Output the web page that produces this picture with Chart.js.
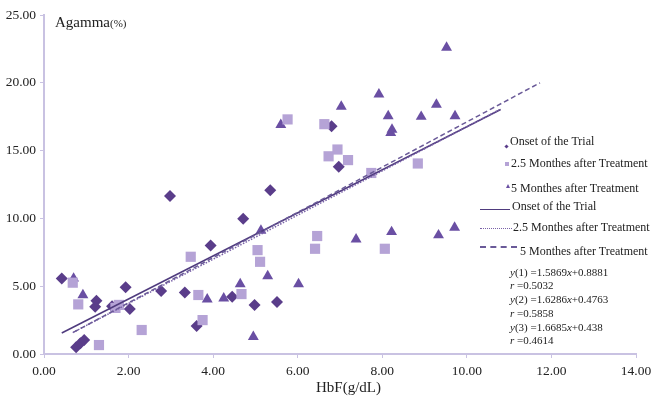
<!DOCTYPE html>
<html lang="en">
<head>
<meta charset="UTF-8">
<title>Agamma vs HbF</title>
<script src="https://cdn.jsdelivr.net/npm/chart.js"></script>
<style>
  body { margin: 0; background: #fff; }
  #wrap { position: relative; width: 668px; height: 401px; font-family: "Liberation Serif", "DejaVu Serif", serif; color: #222; }
  #chart { position: absolute; left: 0; top: 0; }
  .lbl { position: absolute; white-space: nowrap; line-height: 1; }
  .leg { font-size: 12px; }
  .eq { font-size: 11px; left: 510px; }
  .eq i { font-style: italic; }
  .sw { position: absolute; }
</style>
</head>
<body>
<div id="wrap">
  <canvas id="chart" width="668" height="401"></canvas>

  <div class="lbl" style="left:55px;top:15px;font-size:15px;">Agamma<span style="font-size:11px;">(%)</span></div>
  <div class="lbl" style="left:316px;top:380px;font-size:15px;">HbF(g/dL)</div>

  <!-- legend -->
  <div class="sw" style="left:505px;top:145px;width:3px;height:3px;background:#5a3d8a;transform:rotate(45deg);"></div>
  <div class="lbl leg" style="left:510px;top:135px;">Onset of the Trial</div>
  <div class="sw" style="left:505px;top:162px;width:4px;height:4px;background:#b5a3d6;"></div>
  <div class="lbl leg" style="left:511px;top:157px;">2.5 Monthes after Treatment</div>
  <div class="sw" style="left:506px;top:184px;width:0;height:0;border-left:2px solid transparent;border-right:2px solid transparent;border-bottom:4px solid #6a4fa3;"></div>
  <div class="lbl leg" style="left:511px;top:182px;">5 Monthes after Treatment</div>

  <div class="sw" style="left:480px;top:209px;width:30px;border-top:1.5px solid #4f3b7e;"></div>
  <div class="lbl leg" style="left:512px;top:200px;">Onset of the Trial</div>
  <div class="sw" style="left:480px;top:228px;width:32px;border-top:1.5px dotted #7a62a8;"></div>
  <div class="lbl leg" style="left:513px;top:221px;">2.5 Monthes after Treatment</div>
  <div class="sw" style="left:480px;top:246px;width:37px;border-top:2px dashed #6a5a98;"></div>
  <div class="lbl leg" style="left:520px;top:245px;">5 Monthes after Treatment</div>

  <div class="lbl eq" style="top:267px;"><i>y</i>(1) =1.5869<i>x</i>+0.8881</div>
  <div class="lbl eq" style="top:280px;"><i>r</i> =0.5032</div>
  <div class="lbl eq" style="top:294px;"><i>y</i>(2) =1.6286<i>x</i>+0.4763</div>
  <div class="lbl eq" style="top:308px;"><i>r</i> =0.5858</div>
  <div class="lbl eq" style="top:322px;"><i>y</i>(3) =1.6685<i>x</i>+0.438</div>
  <div class="lbl eq" style="top:335px;"><i>r</i> =0.4614</div>
</div>

<script>
  // Onset of the Trial (diamonds)
  var onsetX = [0.42, 0.76, 0.86, 0.95, 1.21, 1.24, 1.61, 1.93, 2.03, 2.77, 2.98, 3.33, 3.61, 3.94, 4.45, 4.71, 4.98, 5.35, 5.51, 6.80, 6.97]
  var onsetY = [5.57, 0.50, 0.79, 1.03, 3.48, 3.93, 3.53, 4.93, 3.32, 4.64, 11.66, 4.53, 2.06, 8.01, 4.22, 9.97, 3.62, 12.08, 3.83, 16.80, 13.80]

  // 2.5 Monthes after Treatment (squares)
  var m25X = [0.68, 0.81, 1.30, 1.69, 1.77, 2.31, 3.47, 3.65, 3.75, 4.67, 5.05, 5.11, 5.76, 6.46, 6.41, 6.63, 6.73, 6.94, 7.19, 7.74, 8.06, 8.84]
  var m25Y = [5.26, 3.66, 0.66, 3.40, 3.62, 1.77, 7.17, 4.35, 2.50, 4.42, 7.66, 6.80, 17.30, 8.70, 7.76, 16.95, 14.58, 15.08, 14.30, 13.35, 7.76, 14.05]

  // 5 Monthes after Treatment (triangles)
  var m5X = [0.70, 0.92, 3.86, 4.25, 4.64, 4.95, 5.13, 5.29, 6.02, 5.60, 7.03, 7.38, 7.92, 8.14, 8.20, 8.23, 8.22, 8.92, 9.28, 9.33, 9.52, 9.71, 9.72]
  var m5Y = [5.57, 4.35, 4.03, 4.10, 5.16, 1.27, 9.10, 5.74, 5.15, 16.90, 18.25, 8.45, 19.15, 17.55, 16.30, 16.55, 9.00, 17.50, 18.40, 8.76, 22.60, 9.32, 17.55]

  // fitted lines, endpoints
  var fit1X = [0.42, 10.80], fit1Y = [1.55, 18.03]
  var fit2X = [0.68, 10.76], fit2Y = [1.58, 18.00]
  var fit3X = [0.70, 11.73], fit3Y = [1.61, 20.00]

  var xTicks = [0, 2, 4, 6, 8, 10, 12, 14]
  var yTicks = [0, 5, 10, 15, 20, 25]

  function pts(xs, ys) {
    var out = []
    for (let i = 0; i < xs.length; i++) out.push({x: xs[i], y: ys[i]})
    return out
  }

  var axisColor = '#c9c2e2'
  var tickFont = {family: '"Liberation Serif", "DejaVu Serif", serif', size: 13.5}

  const config = {
    type: 'scatter',
    data: {
      datasets: [
        {label: 'fit 3', type: 'line', data: pts(fit3X, fit3Y), borderColor: '#6a5a98', borderWidth: 1.5, borderDash: [5, 3], pointRadius: 0, showLine: true, fill: false},
        {label: 'fit 2', type: 'line', data: pts(fit2X, fit2Y), borderColor: '#7a62a8', borderWidth: 1.5, borderDash: [1.5, 1.5], pointRadius: 0, showLine: true, fill: false},
        {label: 'fit 1', type: 'line', data: pts(fit1X, fit1Y), borderColor: '#4f3b7e', borderWidth: 1.5, pointRadius: 0, showLine: true, fill: false},
        {label: '2.5 Monthes after Treatment', data: pts(m25X, m25Y), pointStyle: 'rect', pointRadius: 7.2, backgroundColor: '#b5a3d6', borderWidth: 0},
        {label: '5 Monthes after Treatment', data: pts(m5X, m5Y), pointStyle: 'triangle', pointRadius: 6.3, backgroundColor: '#6a4fa3', borderWidth: 0},
        {label: 'Onset of the Trial', data: pts(onsetX, onsetY), pointStyle: 'rectRot', pointRadius: 6, backgroundColor: '#5a3d8a', borderWidth: 0}
      ]
    },
    options: {
      responsive: false,
      animation: false,
      layout: {padding: {top: 15, right: 32, left: 0, bottom: 0}},
      plugins: {legend: {display: false}, tooltip: {enabled: false}},
      scales: {
        x: {
          type: 'linear', min: 0, max: 14,
          afterFit: function (s) { s.height = 47 },
          afterBuildTicks: function (s) { s.ticks = xTicks.map(v => ({value: v})) },
          grid: {drawOnChartArea: false, drawTicks: true, tickLength: 4, color: axisColor},
          border: {color: axisColor, width: 2},
          ticks: {font: tickFont, color: '#222', padding: 5, maxRotation: 0,
            callback: function (v) { return v.toFixed(2) }}
        },
        y: {
          type: 'linear', min: 0, max: 25,
          afterFit: function (s) { s.width = 44 },
          afterBuildTicks: function (s) { s.ticks = yTicks.map(v => ({value: v})) },
          grid: {drawOnChartArea: false, drawTicks: true, tickLength: 4, color: axisColor},
          border: {color: axisColor, width: 2},
          ticks: {font: tickFont, color: '#222', padding: 4,
            callback: function (v) { return v.toFixed(2) }}
        }
      }
    }
  }

  const chart = new Chart(document.getElementById('chart'), config)
</script>
</body>
</html>
